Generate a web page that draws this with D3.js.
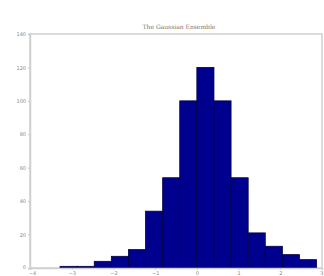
<!DOCTYPE html>
<html>
<head>
<meta charset="utf-8">
<script src="https://cdn.jsdelivr.net/npm/d3@7"></script>
<style>
    body { margin: 0; background: #fff; }
    svg { display: block; }
    .tick text { fill: #888; font-family: "DejaVu Sans", sans-serif; font-size: 5px; }
</style>
</head>
<body>
<svg width="324" height="276"></svg>
<script>
// bin edges and counts
var binEdges = [-3.28, -2.87, -2.46, -2.05, -1.64, -1.23, -0.82, -0.41, 0.0, 0.41, 0.82, 1.23, 1.64, 2.05, 2.46, 2.87];
var counts = [1, 1, 4, 7, 11, 34, 54, 100, 120, 100, 54, 21, 13, 8, 5];
var xTicks = [-4, -3, -2, -1, 0, 1, 2, 3];
var yTicks = [0, 20, 40, 60, 80, 100, 120, 140];
var title = "The Gaussian Ensemble";

var svg = d3.select("svg"),
    margin = { left: 30, right: 2, top: 34, bottom: 8 },
    width = +svg.attr("width"),
    height = +svg.attr("height");

var x = d3.scaleLinear().domain([-4, 3]).range([margin.left, width - margin.right]),
    y = d3.scaleLinear().domain([0, 140]).range([height - margin.bottom, margin.top]);

var bins = counts.map(function (c, i) {
    return { x0: binEdges[i], x1: binEdges[i + 1], n: c };
});

// box
svg.append("rect")
    .attr("x", x(-4))
    .attr("y", y(140))
    .attr("width", x(3) - x(-4))
    .attr("height", y(0) - y(140))
    .attr("fill", "none")
    .attr("stroke", "#d0d0d0")
    .attr("stroke-width", 1.5);

svg.selectAll(".bar")
    .data(bins)
    .enter().append("rect")
    .attr("class", "bar")
    .attr("x", function (d) { return x(d.x0); })
    .attr("y", function (d) { return y(d.n); })
    .attr("width", function (d) { return x(d.x1) - x(d.x0); })
    .attr("height", function (d) { return y(0) - y(d.n); })
    .attr("fill", "#00008f")
    .attr("stroke", "#000040")
    .attr("stroke-width", 0.8);

var xAxis = svg.append("g")
    .attr("transform", "translate(0," + y(0) + ")")
    .call(d3.axisBottom(x).tickValues(xTicks).tickFormat(d3.format("d")).tickSize(2).tickPadding(1));

var yAxis = svg.append("g")
    .attr("transform", "translate(" + x(-4) + ",0)")
    .call(d3.axisLeft(y).tickValues(yTicks).tickSize(2).tickPadding(2));

[xAxis, yAxis].forEach(function (g) {
    g.select(".domain").attr("stroke", "#d0d0d0").attr("stroke-width", 1.5);
    g.selectAll(".tick line").attr("stroke", "#c8c8c8");
});

// keep the corner labels apart and inside the window
xAxis.selectAll(".tick text")
    .filter(function (d) { return d === 3; })
    .attr("text-anchor", "end")
    .attr("dx", "1");
xAxis.selectAll(".tick text")
    .filter(function (d) { return d === -4; })
    .attr("dx", "2");
yAxis.selectAll(".tick text")
    .filter(function (d) { return d === 0; })
    .attr("dy", "0");

svg.append("text")
    .attr("x", (x(-4) + x(3)) / 2 + 3)
    .attr("y", 29)
    .attr("text-anchor", "middle")
    .attr("font-family", "DejaVu Serif, serif")
    .attr("font-size", 6)
    .attr("fill", "#777")
    .text(title);
</script>
</body>
</html>
